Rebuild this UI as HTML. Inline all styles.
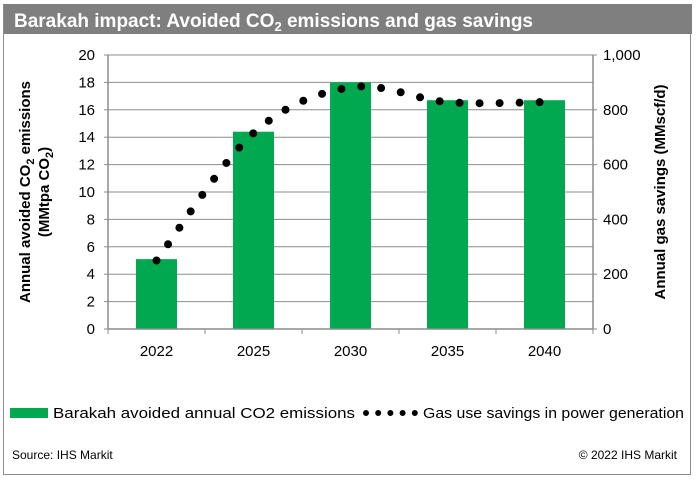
<!DOCTYPE html>
<html><head><meta charset="utf-8"><style>
html,body{margin:0;padding:0;background:#fff;}
svg{display:block;font-family:"Liberation Sans",Arial,sans-serif;}
</style></head><body>
<svg id="chart" width="696" height="480" viewBox="0 0 696 480">
<rect x="3.5" y="4.5" width="687" height="470" fill="#fff" stroke="#8c8c8c"/>
<rect x="4" y="4" width="688" height="30" fill="#7f7f7f"/>
<text x="14" y="27" font-size="19" font-weight="bold" fill="#fff">Barakah impact: Avoided CO<tspan font-size="13" dy="4">2</tspan><tspan dy="-4"> emissions and gas savings</tspan></text>
<g id="grid"></g>
<g id="bars"></g>
<path id="line" fill="none" stroke="#000" stroke-width="8" stroke-linecap="round" stroke-dasharray="0 20"/>
<g id="axes"></g>
<text transform="translate(30,192) rotate(-90)" text-anchor="middle" font-size="15" font-weight="bold">Annual avoided CO<tspan font-size="11" dy="4">2</tspan><tspan dy="-4"> emissions</tspan></text>
<text transform="translate(49,192) rotate(-90)" text-anchor="middle" font-size="15" font-weight="bold">(MMtpa CO<tspan font-size="11" dy="4">2</tspan><tspan dy="-4">)</tspan></text>
<text transform="translate(665,192) rotate(-90)" text-anchor="middle" font-size="15" font-weight="bold">Annual gas savings (MMscf/d)</text>
<rect x="10" y="408" width="38" height="10" fill="#00a94f"/>
<text x="53" y="418" font-size="15" textLength="302" lengthAdjust="spacingAndGlyphs">Barakah avoided annual CO2 emissions</text>
<line x1="366" y1="413" x2="415" y2="413" stroke="#000" stroke-width="6" stroke-linecap="round" stroke-dasharray="0 12.2"/>
<text x="423" y="418" font-size="15" textLength="261" lengthAdjust="spacingAndGlyphs">Gas use savings in power generation</text>
<text x="12" y="459" font-size="12">Source: IHS Markit</text>
<text x="677" y="459" font-size="12" text-anchor="end">© 2022 IHS Markit</text>
</svg>
<script>
const categories = ["2022","2025","2030","2035","2040"];
const co2Values = [5.1, 14.4, 18.0, 16.7, 16.7];
const gasValues = [250, 715, 882, 828, 828];
const leftTicks = [0,2,4,6,8,10,12,14,16,18,20];
const rightTicks = ["0","200","400","600","800","1,000"];
const rightTickValues = [0,200,400,600,800,1000];

const NS="http://www.w3.org/2000/svg";
const X0=108, X1=593, Y0=329, Y1=55;
const band=(X1-X0)/categories.length;
const xc=i=>X0+band*(i+0.5);
const yL=v=>Y0-(v/20)*(Y0-Y1);
const yR=v=>Y0-(v/1000)*(Y0-Y1);
function mk(tag,attrs,parent){const e=document.createElementNS(NS,tag);for(const k in attrs)e.setAttribute(k,attrs[k]);parent.appendChild(e);return e;}
const grid=document.getElementById('grid'), bars=document.getElementById('bars'), axes=document.getElementById('axes');

leftTicks.forEach(t=>{
  const y=yL(t);
  if(t>0){const g=mk('line',{x1:X0,x2:X1,y1:y,y2:y,stroke:'#8c8c8c','stroke-width':1},grid);
  
  }
  const tk=mk('line',{x1:X0-4,x2:X0,y1:y,y2:y,stroke:'#8c8c8c'},axes);
  
  
  const tx=mk('text',{x:X0-13,y:y+5,'font-size':15,'text-anchor':'end'},axes);
  tx.textContent=t;
  
  
});
rightTickValues.forEach((v,i)=>{
  const y=yR(v);
  const tk=mk('line',{x1:X1,x2:X1+4,y1:y,y2:y,stroke:'#8c8c8c'},axes);
  
  
  const tx=mk('text',{x:X1+10,y:y+5,'font-size':15},axes);
  tx.textContent=rightTicks[i];
  
  
});
const bw=41;
categories.forEach((c,i)=>{
  const r=mk('rect',{x:xc(i)-bw/2,y:yL(co2Values[i]),width:bw,height:Y0-yL(co2Values[i]),fill:'#00a94f'},bars);
  
  
  const tx=mk('text',{x:xc(i),y:356,'font-size':15,'text-anchor':'middle'},axes);
  tx.textContent=c;
  
  
});
for(let i=0;i<=categories.length;i++){
  const x=X0+band*i;
  const tk=mk('line',{x1:x,x2:x,y1:Y0,y2:Y0+5,stroke:'#8c8c8c'},axes);
  
  
}
[['left-axis',X0,Y1,X0,Y0],['right-axis',X1,Y1,X1,Y0],['x-axis',X0,Y0,X1,Y0]].forEach(a=>{
  const l=mk('line',{x1:a[1],y1:a[2],x2:a[3],y2:a[4],stroke:'#8c8c8c','stroke-width':1.5},axes);
  
  
});
const pts=gasValues.map((v,i)=>[xc(i),yR(v)]);
let d='M'+pts[0][0]+','+pts[0][1];
for(let i=0;i<pts.length-1;i++){
  const p0=pts[i-1]||pts[i],p1=pts[i],p2=pts[i+1],p3=pts[i+2]||p2;
  const c1=[p1[0]+(p2[0]-p0[0])/6,p1[1]+(p2[1]-p0[1])/6];
  const c2=[p2[0]-(p3[0]-p1[0])/6,p2[1]-(p3[1]-p1[1])/6];
  d+=` C${c1[0]},${c1[1]} ${c2[0]},${c2[1]} ${p2[0]},${p2[1]}`;
}
document.getElementById('line').setAttribute('d',d);
</script>
</body></html>
